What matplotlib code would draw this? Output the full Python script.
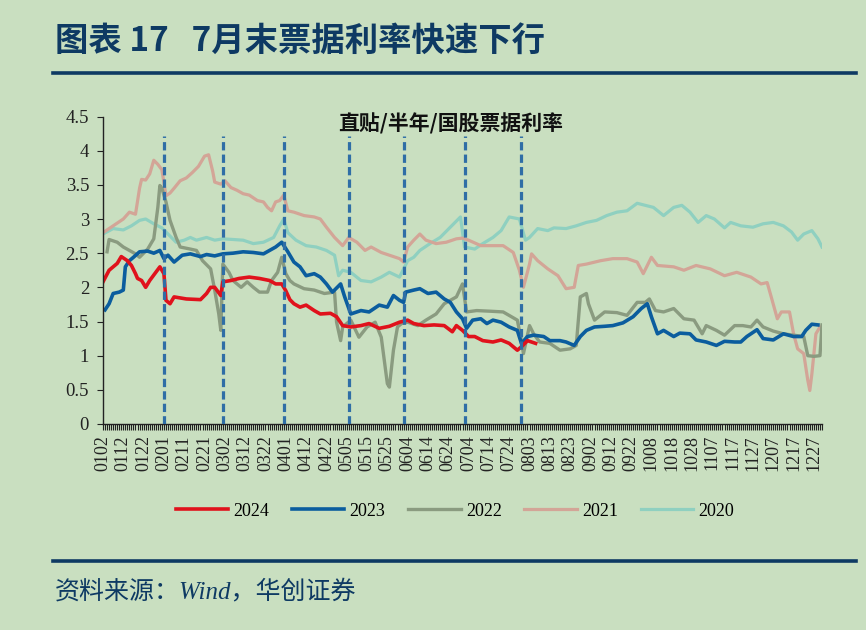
import numpy as np
import matplotlib.pyplot as plt
from matplotlib.lines import Line2D

plt.rcParams['font.family'] = ['Liberation Serif', 'Noto Sans CJK SC', 'DejaVu Sans']

BG = '#c9dfc0'
NAVY = '#0e3a63'

# x axis: one category per trading date, label every 10 categories
date_labels = ['0102', '0112', '0122', '0201', '0211', '0221', '0302', '0312', '0322',
               '0401', '0412', '0422', '0505', '0515', '0525', '0604', '0614', '0624',
               '0704', '0714', '0724', '0803', '0813', '0823', '0902', '0912', '0922',
               '1008', '1018', '1028', '1107', '1117', '1127', '1207', '1217', '1227']
n_dates = 355

# vertical markers (category index)
marker_idx = [30, 59, 89, 121, 148, 178, 206]

# series (category index, rate %)
x_2024 = [0, 3, 5, 7, 9, 12, 14, 16, 17, 19, 21, 23, 26, 28, 30, 31, 33, 35, 41, 48, 51, 53, 55,
          58, 59, 63, 67, 72, 77, 82, 85, 88, 90, 92, 94, 97, 100, 104, 107, 112, 115, 118, 122,
          127, 131, 136, 141, 146, 150, 153, 158, 163, 168, 172, 174, 177, 180, 183, 187, 192,
          196, 200, 204, 206, 209, 211, 213]
y_2024 = [2.08, 2.25, 2.30, 2.35, 2.45, 2.39, 2.32, 2.20, 2.13, 2.10, 2.00, 2.10, 2.22, 2.30, 2.20,
          1.81, 1.76, 1.86, 1.83, 1.82, 1.91, 2.00, 2.00, 1.88, 2.08, 2.10, 2.13, 2.15, 2.13, 2.10,
          2.05, 2.05, 1.95, 1.82, 1.76, 1.71, 1.74, 1.66, 1.61, 1.62, 1.57, 1.44, 1.42, 1.44, 1.47,
          1.40, 1.43, 1.49, 1.52, 1.47, 1.44, 1.45, 1.44, 1.35, 1.44, 1.37, 1.28, 1.28, 1.22, 1.20,
          1.23, 1.18, 1.08, 1.13, 1.22, 1.20, 1.18]

x_2023 = [1, 3, 5, 8, 10, 11, 13, 15, 18, 22, 25, 28, 30, 32, 35, 39, 43, 48, 51, 55, 59, 64, 69,
          74, 79, 82, 85, 88, 91, 94, 97, 100, 104, 107, 110, 113, 117, 119, 122, 127, 131, 136,
          140, 143, 146, 148, 149, 153, 156, 160, 164, 168, 171, 174, 177, 179, 182, 186, 189,
          192, 196, 200, 204, 206, 209, 212, 217, 220, 225, 228, 232, 235, 238, 242, 247, 251,
          256, 261, 265, 268, 270, 273, 276, 281, 284, 289, 292, 297, 302, 306, 311, 314, 317,
          322, 325, 330, 335, 340, 344, 346, 349, 352]
y_2023 = [1.67, 1.76, 1.91, 1.93, 1.96, 2.30, 2.39, 2.44, 2.52, 2.53, 2.50, 2.54, 2.42, 2.47, 2.37,
          2.47, 2.49, 2.45, 2.48, 2.46, 2.49, 2.50, 2.52, 2.51, 2.49, 2.54, 2.59, 2.66, 2.52, 2.37,
          2.30, 2.17, 2.20, 2.15, 2.05, 1.93, 2.05, 1.86, 1.61, 1.66, 1.64, 1.74, 1.71, 1.88, 1.81,
          1.78, 1.93, 1.96, 1.98, 1.91, 1.93, 1.83, 1.78, 1.64, 1.54, 1.40, 1.52, 1.54, 1.47, 1.52,
          1.49, 1.42, 1.37, 1.18, 1.28, 1.30, 1.28, 1.22, 1.22, 1.20, 1.15, 1.28, 1.37, 1.42, 1.43,
          1.44, 1.48, 1.57, 1.69, 1.76, 1.57, 1.32, 1.37, 1.28, 1.33, 1.32, 1.23, 1.20, 1.15, 1.21,
          1.20, 1.20, 1.28, 1.38, 1.25, 1.23, 1.32, 1.28, 1.28, 1.37, 1.46, 1.45]

x_2022 = [2, 3, 7, 10, 13, 16, 18, 22, 25, 27, 28, 29, 31, 33, 36, 38, 43, 46, 49, 53, 55, 57, 58,
          59, 62, 64, 68, 71, 74, 77, 81, 83, 86, 88, 90, 92, 94, 99, 104, 109, 114, 115, 117, 118,
          122, 126, 130, 134, 137, 140, 141, 143, 145, 147, 150, 155, 159, 164, 168, 171, 174,
          177, 179, 184, 191, 197, 204, 206, 207, 210, 212, 215, 220, 225, 230, 233, 235, 238,
          239, 242, 247, 253, 258, 263, 267, 269, 272, 276, 281, 286, 291, 295, 297, 302, 306,
          311, 315, 319, 322, 325, 330, 335, 340, 345, 347, 350, 353, 354]
y_2022 = [2.52, 2.70, 2.66, 2.59, 2.54, 2.49, 2.44, 2.56, 2.71, 3.17, 3.49, 3.45, 3.25, 2.98, 2.73,
          2.59, 2.56, 2.54, 2.39, 2.27, 1.96, 1.61, 1.37, 2.34, 2.22, 2.10, 2.00, 2.08, 2.00, 1.93,
          1.93, 2.10, 2.22, 2.44, 2.20, 2.10, 2.05, 1.98, 1.96, 1.91, 1.93, 1.49, 1.22, 1.42, 1.52,
          1.27, 1.42, 1.49, 1.27, 0.59, 0.54, 1.08, 1.42, 1.47, 1.49, 1.44, 1.52, 1.61, 1.76, 1.81,
          1.86, 2.05, 1.64, 1.66, 1.65, 1.64, 1.52, 1.22, 1.03, 1.44, 1.32, 1.20, 1.18, 1.08, 1.10,
          1.15, 1.86, 1.91, 1.76, 1.52, 1.64, 1.63, 1.59, 1.78, 1.78, 1.83, 1.66, 1.64, 1.69, 1.54,
          1.52, 1.32, 1.44, 1.37, 1.30, 1.44, 1.44, 1.42, 1.52, 1.42, 1.36, 1.32, 1.30, 1.28, 1.00,
          0.99, 1.00, 1.45]

x_2021 = [0, 5, 10, 13, 16, 18, 19, 21, 23, 25, 27, 29, 31, 33, 35, 38, 41, 44, 47, 50, 52, 54,
          55, 58, 60, 63, 66, 69, 72, 76, 79, 81, 83, 85, 87, 89, 91, 94, 99, 104, 107, 110, 114,
          118, 121, 125, 129, 132, 137, 141, 146, 148, 150, 153, 156, 159, 164, 169, 174, 177,
          180, 186, 192, 197, 202, 205, 207, 210, 211, 214, 219, 224, 228, 232, 234, 238, 245,
          251, 258, 263, 266, 268, 270, 273, 281, 286, 292, 299, 306, 312, 319, 324, 327, 329,
          332, 334, 338, 340, 342, 345, 347, 348, 349, 351, 353]
y_2021 = [2.80, 2.90, 3.00, 3.10, 3.07, 3.45, 3.58, 3.57, 3.66, 3.86, 3.80, 3.72, 3.34, 3.38, 3.45,
          3.56, 3.60, 3.68, 3.77, 3.92, 3.94, 3.70, 3.54, 3.51, 3.56, 3.46, 3.42, 3.37, 3.35, 3.27,
          3.25, 3.17, 3.12, 3.25, 3.27, 3.35, 3.12, 3.10, 3.05, 3.03, 3.00, 2.88, 2.73, 2.61, 2.73,
          2.66, 2.54, 2.59, 2.51, 2.47, 2.42, 2.37, 2.59, 2.69, 2.78, 2.69, 2.64, 2.66, 2.71, 2.72,
          2.69, 2.61, 2.61, 2.61, 2.51, 2.25, 2.00, 2.34, 2.49, 2.39, 2.27, 2.17, 1.98, 2.00, 2.32,
          2.34, 2.39, 2.42, 2.42, 2.37, 2.20, 2.32, 2.44, 2.32, 2.30, 2.25, 2.32, 2.27, 2.17, 2.22,
          2.15, 2.05, 2.07, 1.86, 1.54, 1.64, 1.64, 1.32, 1.10, 1.03, 0.64, 0.49, 0.73, 1.32, 1.42]

x_2020 = [0, 5, 10, 14, 18, 21, 25, 29, 32, 36, 40, 43, 46, 51, 55, 59, 64, 69, 74, 79, 84, 87, 89,
          91, 95, 100, 105, 110, 114, 116, 118, 122, 127, 132, 137, 141, 146, 150, 153, 156, 161,
          166, 171, 176, 178, 183, 187, 192, 196, 200, 205, 208, 210, 214, 219, 222, 228, 233,
          238, 243, 248, 253, 258, 263, 267, 271, 276, 281, 285, 289, 293, 297, 301, 306, 309,
          314, 320, 325, 330, 335, 339, 342, 345, 349, 352, 354]
y_2020 = [2.78, 2.86, 2.84, 2.90, 2.98, 3.00, 2.93, 2.87, 2.78, 2.66, 2.69, 2.73, 2.69, 2.73, 2.69,
          2.71, 2.70, 2.69, 2.64, 2.66, 2.73, 2.90, 3.00, 2.80, 2.69, 2.61, 2.59, 2.54, 2.47, 2.17,
          2.25, 2.22, 2.10, 2.08, 2.15, 2.22, 2.15, 2.39, 2.44, 2.54, 2.64, 2.73, 2.88, 3.03, 2.59,
          2.56, 2.64, 2.73, 2.83, 3.03, 3.00, 2.69, 2.73, 2.86, 2.83, 2.87, 2.86, 2.90, 2.95, 2.98,
          3.05, 3.10, 3.12, 3.23, 3.20, 3.17, 3.05, 3.17, 3.20, 3.10, 2.95, 3.05, 3.00, 2.87, 2.95,
          2.90, 2.88, 2.93, 2.95, 2.90, 2.81, 2.69, 2.78, 2.83, 2.71, 2.59]

series = [
    ('2020', x_2020, y_2020, '#8fd0c0', 2.3),
    ('2021', x_2021, y_2021, '#d3a597', 2.3),
    ('2022', x_2022, y_2022, '#8a9b80', 2.4),
    ('2023', x_2023, y_2023, '#0b5d9e', 2.6),
    ('2024', x_2024, y_2024, '#e0121c', 2.6),
]

fig = plt.figure(figsize=(8.66, 6.30), dpi=100, facecolor=BG)
ax = fig.add_axes([103 / 866, 1 - 424 / 630, 719 / 866, 307.5 / 630])
ax.set_facecolor(BG)

handles = {}
for name, xs, ys, color, lw in series:
    ln, = ax.plot(xs, ys, color=color, lw=lw, solid_joinstyle='round', label=name)
    handles[name] = ln

for xi in marker_idx:
    ax.plot([xi, xi], [0, 4.22], color='#2f6ea6', lw=2.3,
            linestyle=(0, (2.6, 1.3)), zorder=5)

ax.set_xlim(0, n_dates - 1)
ax.set_ylim(0, 4.5)
ax.set_yticks(np.arange(0, 4.51, 0.5))
ax.set_yticklabels([f'{v:g}' for v in np.arange(0, 4.51, 0.5)])
ax.set_xticks(np.arange(0, 10 * len(date_labels), 10))
ax.set_xticklabels(date_labels, rotation=90)
ax.set_xticks(np.arange(0, n_dates), minor=True)

for s in ['top', 'right']:
    ax.spines[s].set_visible(False)
for s in ['left', 'bottom']:
    ax.spines[s].set_color('#222222')
    ax.spines[s].set_linewidth(1.0)

ax.tick_params(axis='y', direction='out', length=4, pad=6, labelsize=13.5,
               colors='#222222')
ax.tick_params(axis='x', which='major', direction='out', length=4, pad=4,
               labelsize=13, colors='#222222')
ax.tick_params(axis='x', which='minor', direction='out', length=4, width=0.8,
               colors='#222222')

ax.text(0.484, 0.976, '直贴/半年/国股票据利率', transform=ax.transAxes,
        ha='center', va='center', fontsize=15, fontweight='bold',
        family=['Noto Sans CJK SC', 'DejaVu Sans'], color='#111111')

order = ['2024', '2023', '2022', '2021', '2020']
fig.legend([handles[k] for k in order], order, loc='center',
           bbox_to_anchor=(455 / 866, 1 - 511 / 630), ncol=5, frameon=False,
           fontsize=13, handlelength=2.9, handletextpad=0.3, columnspacing=1.25)

# header, rules and source
fig.text(55 / 866, 1 - 41 / 630, '图表 17   7月末票据利率快速下行', ha='left', va='center',
         fontsize=24, fontweight='bold', color=NAVY,
         family=['Noto Sans CJK SC', 'DejaVu Sans'])
fig.add_artist(Line2D([53 / 866, 856 / 866], [1 - 73 / 630] * 2, color=NAVY, lw=2.6))
fig.add_artist(Line2D([53 / 866, 856 / 866], [1 - 561 / 630] * 2, color=NAVY, lw=2.6))
fig.text(55 / 866, 1 - 592 / 630, '资料来源：Wind，华创证券', ha='left', va='center',
         fontsize=18, style='italic', color=NAVY,
         family=['Liberation Serif', 'Noto Sans CJK SC'])

fig.savefig('out.png', dpi=100, facecolor=BG)
